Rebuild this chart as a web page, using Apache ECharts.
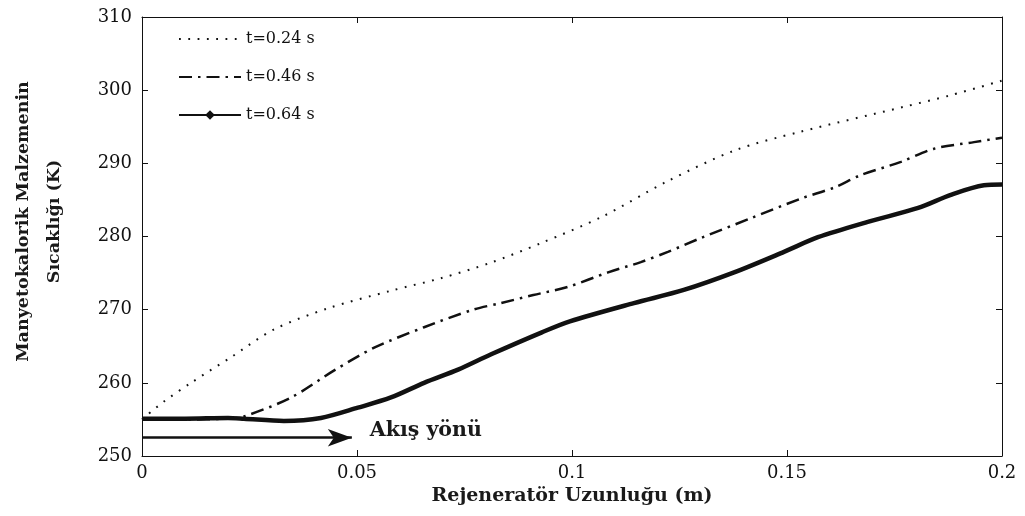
<!DOCTYPE html>
<html>
<head>
<meta charset="utf-8">
<script src="https://cdn.jsdelivr.net/npm/echarts@6/dist/echarts.min.js"></script>
<style>
  html, body { margin: 0; padding: 0; background: #fff; }
  #chart { width: 1025px; height: 516px; }
</style>
</head>
<body>
<div id="chart"></div>
<script>
// Regenerator position (m) vs. magnetocaloric material temperature (K)
const seriesNames = ['t=0.24 s', 't=0.46 s', 't=0.64 s'];

const t024 = [
  [0, 255], [0.005, 257.4], [0.0114, 260], [0.0207, 263.5], [0.0307, 267.3],
  [0.0433, 270.2], [0.058, 272.6], [0.0695, 274.3], [0.081, 276.4], [0.0928, 279.1],
  [0.107, 282.7], [0.122, 287.5], [0.138, 291.8], [0.153, 294.3], [0.177, 297.7],
  [0.188, 299.3], [0.2, 301.3]
];

const t046 = [
  [0, 255], [0.01, 255], [0.02, 255.1], [0.0237, 255.4], [0.0347, 258],
  [0.0447, 261.7], [0.054, 264.8], [0.0656, 267.6], [0.077, 270], [0.0835, 270.9],
  [0.091, 272], [0.099, 273.1], [0.1084, 275.1], [0.116, 276.5], [0.1223, 277.9],
  [0.13, 279.8], [0.1416, 282.5], [0.1533, 285.2], [0.161, 286.7], [0.1672, 288.4],
  [0.1765, 290.2], [0.1842, 292], [0.1935, 292.9], [0.2, 293.5]
];

const t064 = [
  [0, 255.1], [0.01, 255.1], [0.02, 255.2], [0.0237, 255.1], [0.033, 254.8],
  [0.0416, 255.2], [0.0502, 256.6], [0.0579, 258], [0.0656, 260], [0.0735, 261.8],
  [0.0812, 263.9], [0.093, 266.9], [0.0995, 268.4], [0.1144, 270.9],
  [0.126, 272.7], [0.1377, 275.1], [0.1493, 277.9], [0.1572, 279.9], [0.1688, 282],
  [0.1805, 283.9], [0.1881, 285.7], [0.1958, 287], [0.2, 287.1]
];

// Flow-direction arrow and its caption
const flowArrow = [[0, 252.5], [0.0488, 252.5]];
const flowLabel = 'Akış yönü';

const xTickLabels = { 0: '0', 0.05: '0.05', 0.1: '0.1', 0.15: '0.15', 0.2: '0.2' };

const serif = '"DejaVu Serif", "Liberation Serif", serif';
const ink = '#111';

const chart = echarts.init(document.getElementById('chart'), null, { renderer: 'canvas' });

const frameAxis = {
  axisLine: { show: true, onZero: false, lineStyle: { color: ink, width: 1 } },
  axisTick: { show: true, inside: true, length: 6, lineStyle: { color: ink } },
  splitLine: { show: false }
};

chart.setOption({
  backgroundColor: '#fff',
  animation: false,
  grid: { left: 141, right: 23, top: 17, bottom: 60, containLabel: false },
  legend: {
    left: 173, top: 26, orient: 'vertical',
    itemWidth: 62, itemHeight: 12, itemGap: 22,
    data: [
      { name: seriesNames[0], itemStyle: { opacity: 0 } },
      { name: seriesNames[1], itemStyle: { opacity: 0 } },
      { name: seriesNames[2] }
    ],
    textStyle: { fontFamily: serif, fontSize: 16, color: ink }
  },
  xAxis: [
    Object.assign({
      type: 'value', min: 0, max: 0.2, interval: 0.05, position: 'bottom',
      name: 'Rejeneratör Uzunluğu (m)', nameLocation: 'middle', nameGap: 29,
      nameTextStyle: { fontFamily: serif, fontWeight: 'bold', fontSize: 19, color: '#1a1a1a' },
      axisLabel: {
        margin: 8, fontFamily: serif, fontSize: 18, color: ink,
        formatter: v => xTickLabels[+v.toFixed(2)] ?? String(v)
      }
    }, frameAxis),
    Object.assign({
      type: 'value', min: 0, max: 0.2, interval: 0.05, position: 'top',
      axisLabel: { show: false }
    }, frameAxis)
  ],
  yAxis: [
    Object.assign({
      type: 'value', min: 250, max: 310, interval: 10, position: 'left',
      name: 'Manyetokalorik Malzemenin\nSıcaklığı (K)', nameLocation: 'middle', nameGap: 72,
      nameTextStyle: {
        fontFamily: serif, fontWeight: 'bold', fontSize: 17.5, color: '#1a1a1a',
        lineHeight: 31, padding: [0, 0, 0, 30]
      },
      axisLabel: { margin: 10, fontFamily: serif, fontSize: 18, color: ink }
    }, frameAxis),
    Object.assign({
      type: 'value', min: 250, max: 310, interval: 10, position: 'right',
      axisLabel: { show: false }
    }, frameAxis)
  ],
  series: [
    {
      name: seriesNames[0], type: 'line', data: t024, smooth: 0.3,
      symbol: 'none', z: 3,
      lineStyle: { color: ink, width: 2, type: [1.8, 7.5] },
      itemStyle: { color: ink }
    },
    {
      name: seriesNames[1], type: 'line', data: t046, smooth: 0.3,
      symbol: 'none', z: 3,
      lineStyle: { color: ink, width: 2.5, type: [13, 6, 2.5, 6] },
      itemStyle: { color: ink }
    },
    {
      name: seriesNames[2], type: 'line', data: t064, smooth: 0.3,
      symbol: 'diamond', symbolSize: 5, showSymbol: false, z: 4,
      lineStyle: { color: ink, width: 4.5 },
      itemStyle: { color: ink },
      markLine: {
        silent: true, animation: false,
        symbol: ['none', 'arrow'], symbolSize: [13, 24],
        lineStyle: { color: ink, width: 2.5, type: 'solid' },
        label: {
          show: true, position: 'end', distance: 18, formatter: flowLabel,
          fontFamily: serif, fontWeight: 'bold', fontSize: 20.5, color: '#1a1a1a',
          offset: [0, -7]
        },
        data: [[{ coord: flowArrow[0] }, { coord: flowArrow[1] }]]
      }
    }
  ]
});
</script>
</body>
</html>
